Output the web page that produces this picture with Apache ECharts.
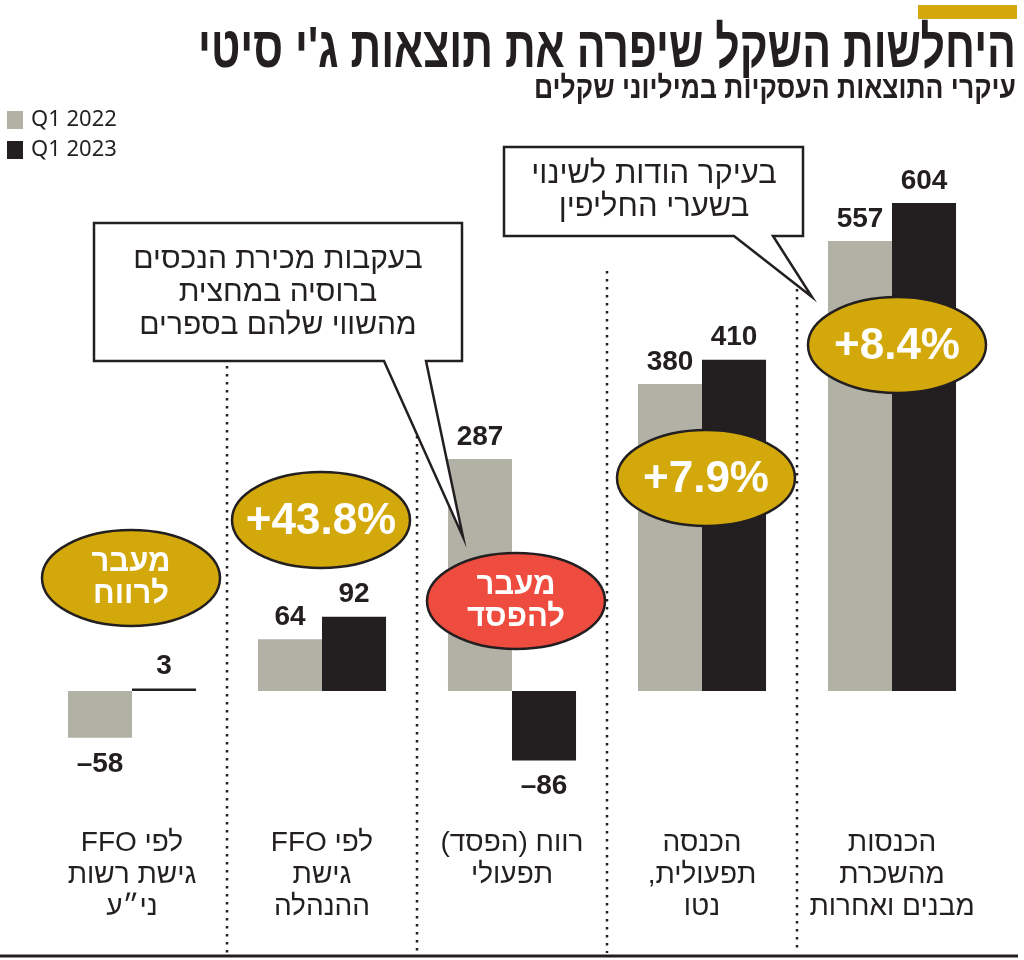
<!DOCTYPE html>
<html><head><meta charset="utf-8">
<script src="https://cdn.jsdelivr.net/npm/echarts@6/dist/echarts.min.js"></script>
<style>html,body{margin:0;padding:0;background:#fff}#c{width:1024px;height:960px}</style>
</head><body><div id="c"></div>
<script>
// ---- data ----
const categories = [
  "לפי FFO\nגישת רשות\nני״ע",
  "לפי FFO\nגישת\nההנהלה",
  "רווח (הפסד)\nתפעולי",
  "הכנסה\nתפעולית,\nנטו",
  "הכנסות\nמהשכרת\nמבנים ואחרות"
];
const seriesNames = ["Q1 2022", "Q1 2023"];
const q1_2022 = [-58, 64, 287, 380, 557];
const q1_2023 = [3, 92, -86, 410, 604];
const yTicks = [-100, 700];

const title = "היחלשות השקל שיפרה את תוצאות ג'י סיטי";
const subtitle = "עיקרי התוצאות העסקיות במיליוני שקלים";
const badges = ["מעבר\nלרווח", "+43.8%", "מעבר\nלהפסד", "+7.9%", "+8.4%"];
const note1 = "בעקבות מכירת הנכסים\nברוסיה במחצית\nמהשווי שלהם בספרים";
const note2 = "בעיקר הודות לשינוי\nבשערי החליפין";

// ---- style ----
const GRAY = "#B1B1A6", BLACK = "#231F20", GOLD = "#D3A80B", RED = "#EE4C3E";
const NARROW = "'Liberation Sans Narrow','Liberation Sans',sans-serif";
const SANS = "'Liberation Sans','DejaVu Sans',sans-serif";

// explicit bidi embeddings, line by line
const rtl = s => s.split('\n').map(l => '\u202B' + l + '\u202C').join('\n');
const ltr = s => s.split('\n').map(l => '\u202A' + l + '\u202C').join('\n');

const mctx = document.createElement('canvas').getContext('2d');
function fitScale(text, font, target) {
  mctx.font = font;
  return target / mctx.measureText(text).width;
}

function items(arr) {
  return arr.map(v => ({ value: v, label: { position: v < 0 ? 'bottom' : 'top', distance: v < 0 ? 12 : 8 } }));
}
const labelCfg = {
  show: true, fontFamily: NARROW, fontWeight: 'bold', fontSize: 28, color: BLACK,
  formatter: p => ltr(String(p.value).replace('-', '\u2013'))
};

const chart = echarts.init(document.getElementById('c'), null, { renderer: 'canvas' });

function ellipse(cx, cy, fill, text, big) {
  return [
    { type: 'ellipse', z: 20, shape: { cx, cy, rx: 89, ry: 48 }, style: { fill, stroke: BLACK, lineWidth: 2.5 } },
    { type: 'text', z: 21, x: cx, y: cy + (big ? 2 : 0), style: {
      text: big ? ltr(text) : rtl(text), fill: '#fff', fontFamily: SANS, fontWeight: 'bold', fontSize: big ? 44 : 31,
      lineHeight: 32, align: 'center', verticalAlign: 'middle' } }
  ];
}
function dots(x, y1) {
  return { type: 'line', z: 1, shape: { x1: x, y1, x2: x, y2: 953 },
    style: { stroke: BLACK, lineWidth: 2.5, lineDash: [2.5, 5.5], lineCap: 'butt' } };
}

const titleFont = "bold 58px 'Liberation Sans','DejaVu Sans',sans-serif";
const subFont = "bold 31px 'Liberation Sans','DejaVu Sans',sans-serif";
const titleSX = fitScale(title, titleFont, 818);
const subSX = fitScale(subtitle, subFont, 482);

const graphics = [
  { type: 'rect', shape: { x: 918, y: 5, width: 99, height: 14 }, style: { fill: GOLD } },
  { type: 'text', x: 1016, y: 51, scaleX: titleSX, style: { text: rtl(title), fill: BLACK, fontFamily: SANS, fontWeight: 'bold',
      fontSize: 58, align: 'right', verticalAlign: 'middle' } },
  { type: 'text', x: 1016, y: 89, scaleX: subSX, style: { text: rtl(subtitle), fill: BLACK, fontFamily: SANS, fontWeight: 'bold',
      fontSize: 31, align: 'right', verticalAlign: 'middle' } },
  { type: 'line', shape: { x1: 0, y1: 956, x2: 1018, y2: 956 }, style: { stroke: BLACK, lineWidth: 3 } },
  dots(227, 366), dots(417, 436), dots(607, 271), dots(797, 273),
  { type: 'polygon', z: 15, shape: { points: [[94,223],[462,223],[462,361],[426,361],[463,537],[384,361],[94,361]] },
    style: { fill: '#fff', stroke: BLACK, lineWidth: 2.5, lineJoin: 'miter' } },
  { type: 'text', z: 16, x: 278, y: 293, style: { text: rtl(note1), fill: BLACK, fontFamily: NARROW, fontSize: 30,
      lineHeight: 33, align: 'center', verticalAlign: 'middle' } },
  { type: 'polygon', z: 15, shape: { points: [[504,147],[803,147],[803,236],[773,236],[812,297],[734,236],[504,236]] },
    style: { fill: '#fff', stroke: BLACK, lineWidth: 2.5, lineJoin: 'miter' } },
  { type: 'text', z: 16, x: 654, y: 191, style: { text: rtl(note2), fill: BLACK, fontFamily: NARROW, fontSize: 31,
      lineHeight: 33, align: 'center', verticalAlign: 'middle' } },
  ...ellipse(131, 578, GOLD, badges[0], false),
  ...ellipse(321, 520, GOLD, badges[1], true),
  ...ellipse(516, 601, RED, badges[2], false),
  ...ellipse(706, 478, GOLD, badges[3], true),
  ...ellipse(897, 345, GOLD, badges[4], true)
];

chart.setOption({
  animation: false,
  legend: {
    data: seriesNames, orient: 'vertical', left: 2, top: 104, itemWidth: 16, itemHeight: 18, itemGap: 8,
    icon: 'rect', formatter: n => ltr(n),
    textStyle: { fontFamily: "'Noto Sans','Open Sans',sans-serif", fontSize: 22, lineHeight: 22, color: BLACK, padding: [0, 0, 0, 3] }
  },
  grid: { left: 37, right: 37, top: 125.4, bottom: 188.2, containLabel: false },
  xAxis: {
    type: 'category', data: categories,
    axisLine: { show: false }, axisTick: { show: false }, splitLine: { show: false },
    axisLabel: { interval: 0, margin: 55, fontFamily: NARROW, fontSize: 28, lineHeight: 32, color: BLACK,
      verticalAlign: 'top', formatter: v => rtl(v) }
  },
  yAxis: { type: 'value', min: yTicks[0], max: yTicks[1], show: false, splitLine: { show: false } },
  series: [
    { name: seriesNames[0], type: 'bar', data: items(q1_2022), itemStyle: { color: GRAY },
      barGap: '0%', barCategoryGap: '32.6%', label: labelCfg, z: 2 },
    { name: seriesNames[1], type: 'bar', data: items(q1_2023), itemStyle: { color: BLACK },
      barGap: '0%', barCategoryGap: '32.6%', label: labelCfg, z: 2 }
  ],
  graphic: graphics
});
</script></body></html>
